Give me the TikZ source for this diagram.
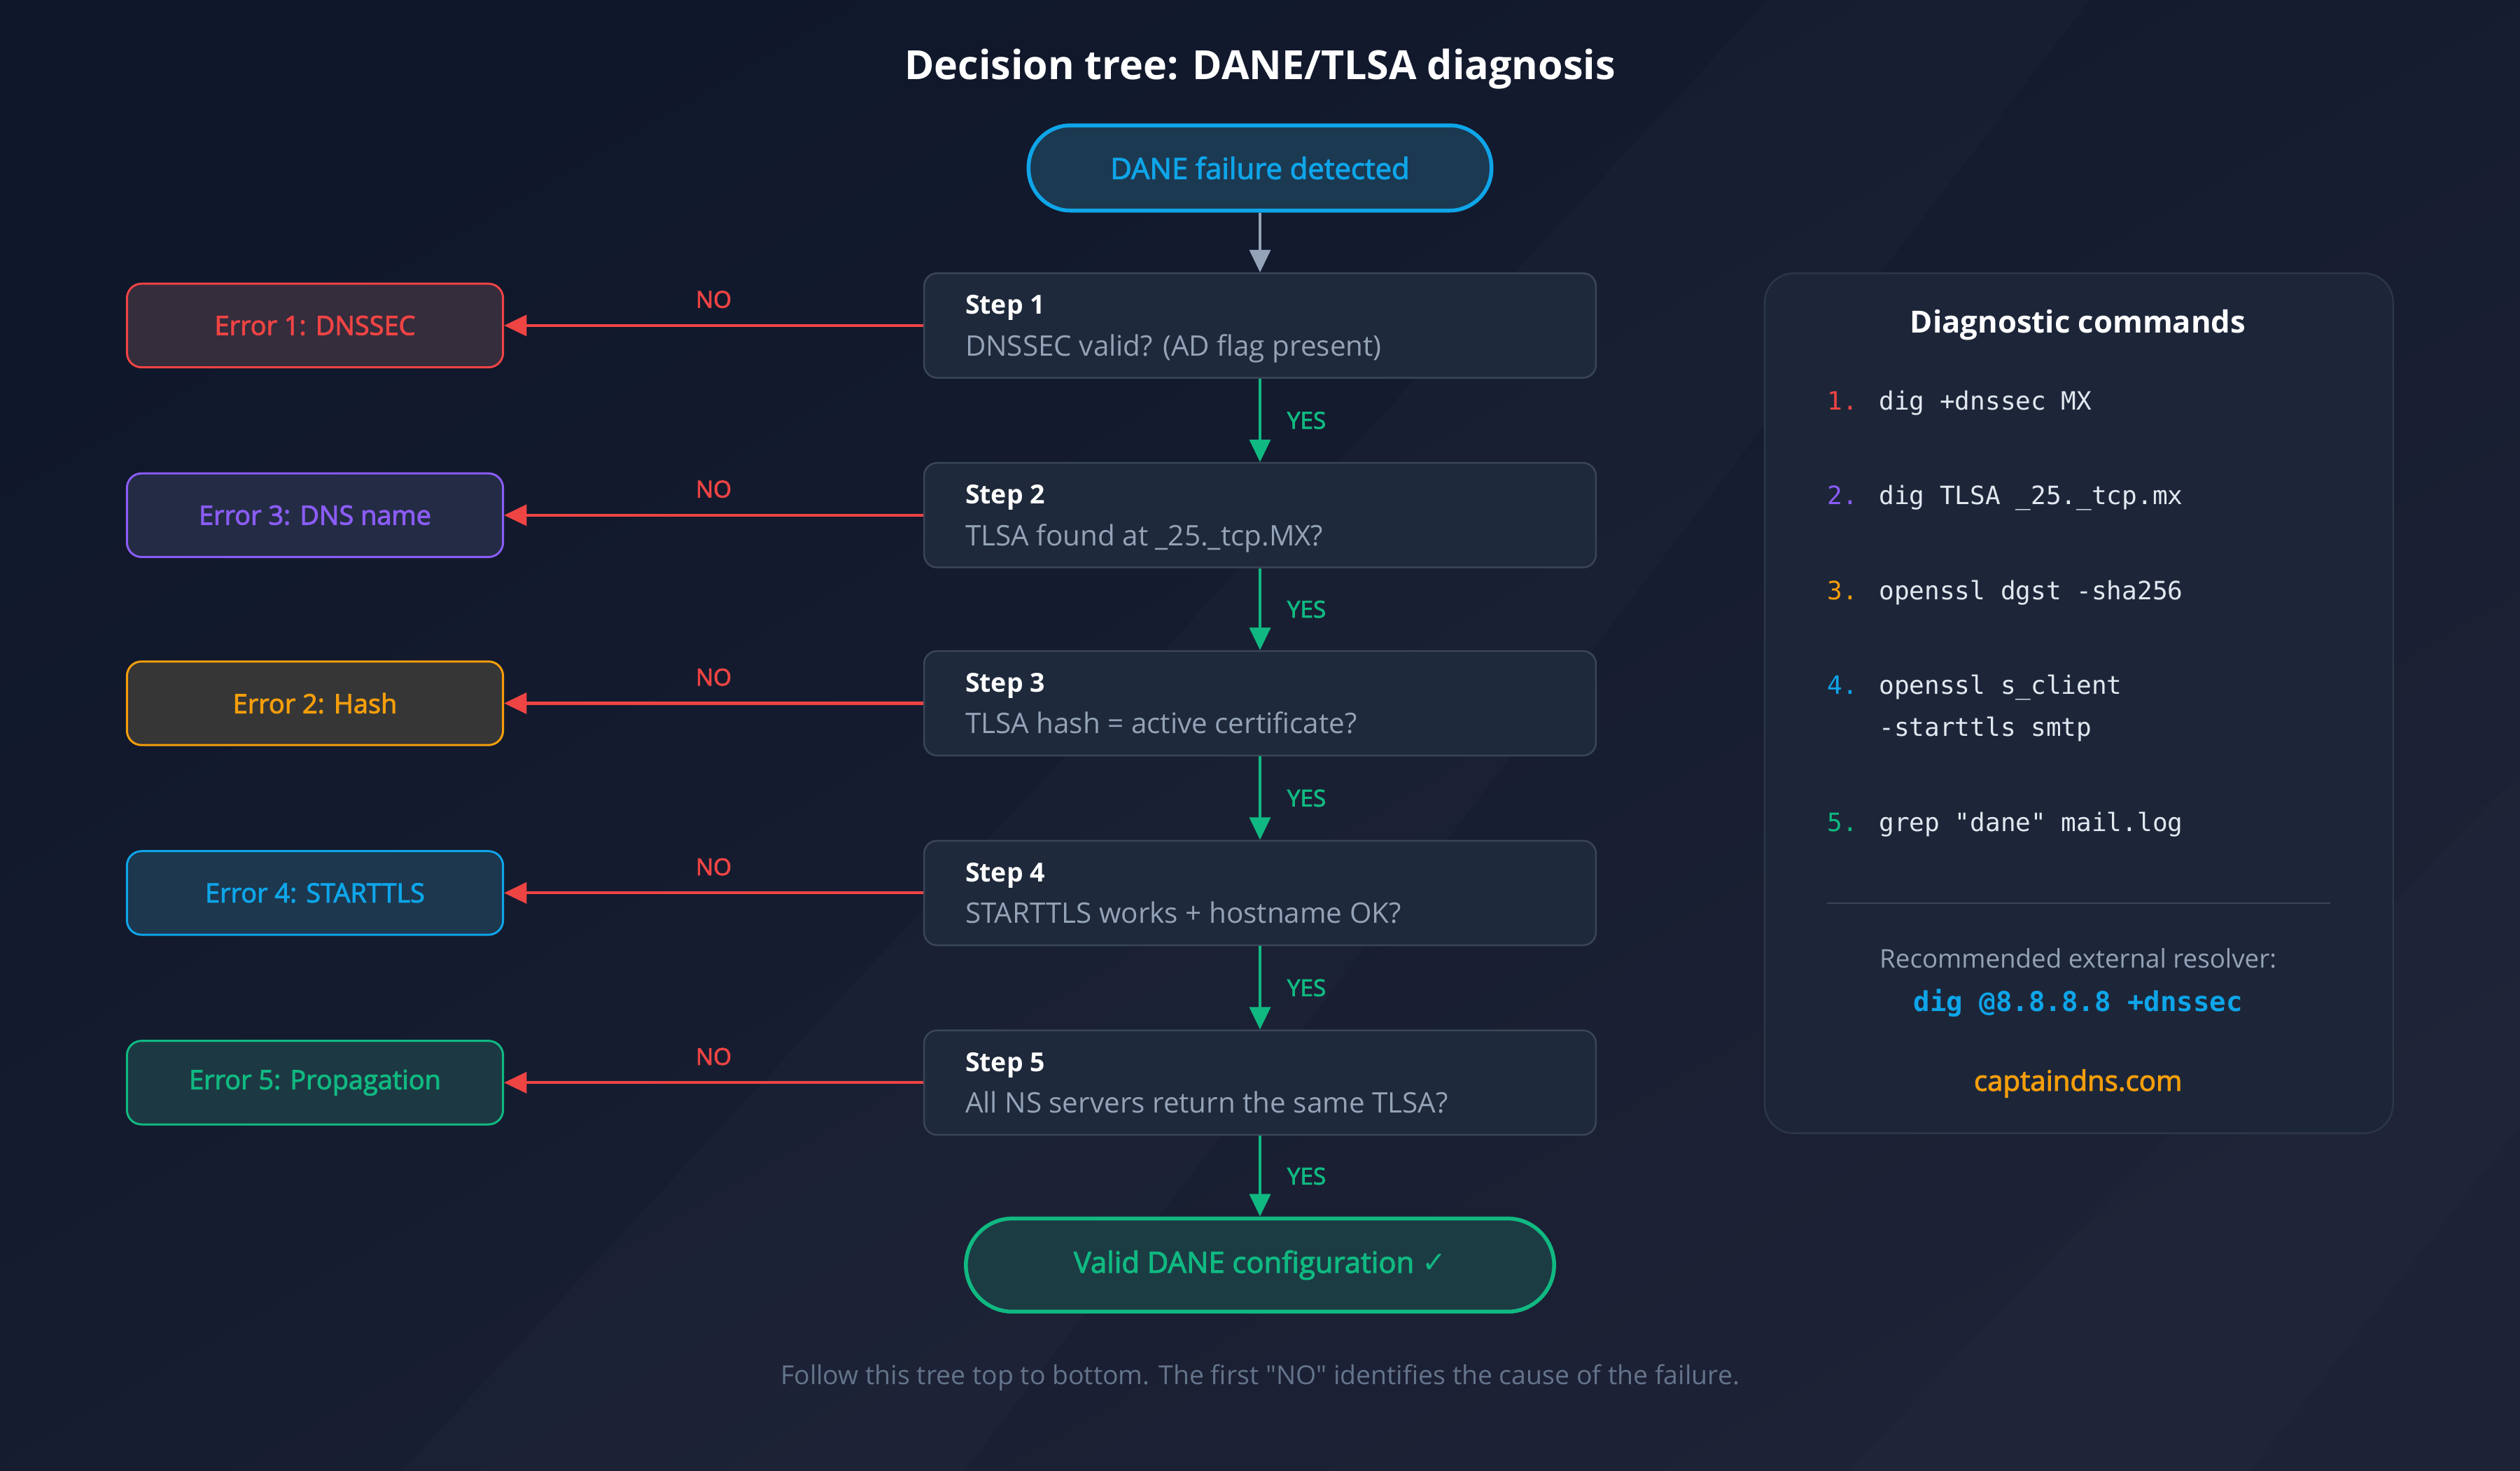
\documentclass[tikz,border=0pt]{standalone}
\usepackage{fontspec}
\setmainfont{Open Sans}[Ligatures=TeXOff]
\setmonofont{DejaVu Sans Mono}
\newfontfamily\medfont{Open Sans}[FakeBold=2.5,Ligatures=TeXOff]
\newfontfamily\symfont{DejaVu Sans}
\usetikzlibrary{calc,arrows.meta,positioning}

\definecolor{bgtop}{HTML}{0F172A}
\definecolor{bgbot}{HTML}{1E2236}
\definecolor{stepfill}{HTML}{1E293B}
\definecolor{stepline}{HTML}{3A4558}
\definecolor{txtgray}{HTML}{94A3B8}
\definecolor{txtdim}{HTML}{64748B}
\definecolor{txtcode}{HTML}{E2E8F0}
\definecolor{cred}{HTML}{EF4444}
\definecolor{cpurple}{HTML}{8B5CF6}
\definecolor{corange}{HTML}{F59E0B}
\definecolor{csky}{HTML}{0EA5E9}
\definecolor{cgreen}{HTML}{10B981}
\definecolor{panelfill}{HTML}{1D2639}
\definecolor{panelline}{HTML}{2C3749}

\tikzset{
	stepbox/.style={draw=stepline, fill=stepfill, line width=1.1pt, rounded corners=8pt, minimum width=418pt, minimum height=65pt, inner sep=0pt},
	steptitle/.style={anchor=base west, inner sep=0pt, text=white, font=\bfseries\fontsize{16.3}{19}\selectfont},
	stepask/.style={anchor=base west, inner sep=0pt, text=txtgray, font=\fontsize{17.6}{20}\selectfont},
	errbox/.style={draw=#1, fill=#1!11!stepfill, text=#1, line width=1.3pt, rounded corners=9pt, minimum width=234pt, minimum height=52pt, font=\medfont\fontsize{16.5}{20}\selectfont},
	pill/.style={draw=#1, fill=#1!13!stepfill, text=#1, line width=2.4pt, font=\medfont\fontsize{18.2}{22}\selectfont},
	noarrow/.style={draw=cred, line width=1.8pt, -{Triangle[length=14pt,width=13pt]}},
	yesarrow/.style={draw=cgreen, line width=1.8pt, -{Triangle[length=14pt,width=13pt]}},
	nolabel/.style={inner sep=0pt, text=cred, font=\medfont\fontsize{14.5}{18}\selectfont},
	yeslabel/.style={inner sep=0pt, text=cgreen, font=\medfont\fontsize{14.5}{18}\selectfont},
	cmdnum/.style={anchor=base west, inner sep=0pt, font=\ttfamily\fontsize{15.7}{18}\selectfont},
	cmd/.style={anchor=base west, inner sep=0pt, text=txtcode, font=\ttfamily\fontsize{15.7}{18}\selectfont},
}

\begin{document}
\begin{tikzpicture}[x=1pt, y=-1pt]
			%%%%% START %%%%%
			
			\useasboundingbox (0, 0) rectangle (1568, 915);
			\shade[top color=bgtop, bottom color=bgbot, shading angle=30] (0, 0) rectangle (1568, 915);
			\fill[white, opacity=0.015] (250, 915) -- (1100, 0) -- (1300, 0) -- (600, 915) -- cycle;
			\fill[white, opacity=0.012] (1150, 915) -- (1568, 480) -- (1568, 700) -- (1400, 915) -- cycle;
			
			\node[text=white, font=\bfseries\fontsize{25}{30}\selectfont] (title) at (784, 43) {Decision tree: DANE/TLSA diagnosis};
			
			\node[pill=csky, minimum width=288pt, minimum height=53pt, rounded corners=26pt] (start) at (784, 104.5) {DANE failure detected};
			
			\node[stepbox] (s1) at (784, 202.5) {};
			\node[steptitle] (s1t) at ($(s1.north west)+(26, 26)$) {Step 1};
			\node[stepask] (s1q) at ($(s1.north west)+(26, 52)$) {DNSSEC valid? (AD flag present)};
			
			\node[stepbox] (s2) at (784, 320.5) {};
			\node[steptitle] (s2t) at ($(s2.north west)+(26, 26)$) {Step 2};
			\node[stepask] (s2q) at ($(s2.north west)+(26, 52)$) {TLSA found at \_25.\_tcp.MX?};
			
			\node[stepbox] (s3) at (784, 437.5) {};
			\node[steptitle] (s3t) at ($(s3.north west)+(26, 26)$) {Step 3};
			\node[stepask] (s3q) at ($(s3.north west)+(26, 52)$) {TLSA hash = active certificate?};
			
			\node[stepbox] (s4) at (784, 555.5) {};
			\node[steptitle] (s4t) at ($(s4.north west)+(26, 26)$) {Step 4};
			\node[stepask] (s4q) at ($(s4.north west)+(26, 52)$) {STARTTLS works + hostname OK?};
			
			\node[stepbox] (s5) at (784, 673.5) {};
			\node[steptitle] (s5t) at ($(s5.north west)+(26, 26)$) {Step 5};
			\node[stepask] (s5q) at ($(s5.north west)+(26, 52)$) {All NS servers return the same TLSA?};
			
			\node[pill=cgreen, minimum width=366pt, minimum height=58pt, rounded corners=29pt] (valid) at (784, 787) {Valid DANE configuration {\symfont ✓}};
			
			% error boxes on the left
			\node[errbox=cred] (e1) at (196, 202.5) {Error 1: DNSSEC};
			\node[errbox=cpurple, fill=cpurple!5!stepfill] (e3) at (196, 320.5) {Error 3: DNS name};
			\node[errbox=corange] (e2) at (196, 437.5) {Error 2: Hash};
			\node[errbox=csky] (e4) at (196, 555.5) {Error 4: STARTTLS};
			\node[errbox=cgreen] (e5) at (196, 673.5) {Error 5: Propagation};
			
			\draw[draw=txtgray, line width=1.8pt, -{Triangle[length=14pt,width=13pt]}] (start.south) -- (s1.north);
			
			\draw[yesarrow] (s1.south) -- node[yeslabel, right=16pt] {YES} (s2.north);
			\draw[yesarrow] (s2.south) -- node[yeslabel, right=16pt] {YES} (s3.north);
			\draw[yesarrow] (s3.south) -- node[yeslabel, right=16pt] {YES} (s4.north);
			\draw[yesarrow] (s4.south) -- node[yeslabel, right=16pt] {YES} (s5.north);
			\draw[yesarrow] (s5.south) -- node[yeslabel, right=16pt] {YES} (valid.north);
			
			\draw[noarrow] (s1.west) -- node[nolabel, above=10pt] {NO} (e1.east);
			\draw[noarrow] (s2.west) -- node[nolabel, above=10pt] {NO} (e3.east);
			\draw[noarrow] (s3.west) -- node[nolabel, above=10pt] {NO} (e2.east);
			\draw[noarrow] (s4.west) -- node[nolabel, above=10pt] {NO} (e4.east);
			\draw[noarrow] (s5.west) -- node[nolabel, above=10pt] {NO} (e5.east);
			
			% command panel
			\node[draw=panelline, fill=panelfill, line width=1pt, rounded corners=18pt, minimum width=391pt, minimum height=535pt] (panel) at (1293.5, 437.5) {};
			\node[text=white, font=\bfseries\fontsize{19}{23}\selectfont] (ptitle) at (1293, 202) {Diagnostic commands};
			
			\node[cmdnum, text=cred] (n1) at (1137, 255) {1.};
			\node[cmd] (c1) at (1169, 255) {dig +dnssec MX};
			\node[cmdnum, text=cpurple] (n2) at (1137, 314) {2.};
			\node[cmd] (c2) at (1169, 314) {dig TLSA \_25.\_tcp.mx};
			\node[cmdnum, text=corange] (n3) at (1137, 373) {3.};
			\node[cmd] (c3) at (1169, 373) {openssl dgst -sha256};
			\node[cmdnum, text=csky] (n4) at (1137, 432) {4.};
			\node[cmd] (c4) at (1169, 432) {openssl s\_client};
			\node[cmd] (c4b) at (1169, 458) {-starttls smtp};
			\node[cmdnum, text=cgreen] (n5) at (1137, 517) {5.};
			\node[cmd] (c5) at (1169, 517) {grep "dane" mail.log};
			
			\draw[stepline, line width=1pt] (1137, 562) -- (1450, 562);
			
			\node[text=txtgray, font=\fontsize{16}{19}\selectfont] (rec) at (1293, 596) {Recommended external resolver:};
			\node[text=csky, font=\ttfamily\bfseries\fontsize{17}{20}\selectfont] (resolver) at (1293, 624) {dig @8.8.8.8 +dnssec};
			\node[text=corange, font=\medfont\fontsize{17.5}{21}\selectfont] (site) at (1293, 674) {captaindns.com};
			
			\node[text=txtdim, font=\fontsize{16.3}{19}\selectfont] (footer) at (784, 857) {Follow this tree top to bottom. The first "NO" identifies the cause of the failure.};
			
			%%%%% END %%%%%
\end{tikzpicture}
\end{document}
